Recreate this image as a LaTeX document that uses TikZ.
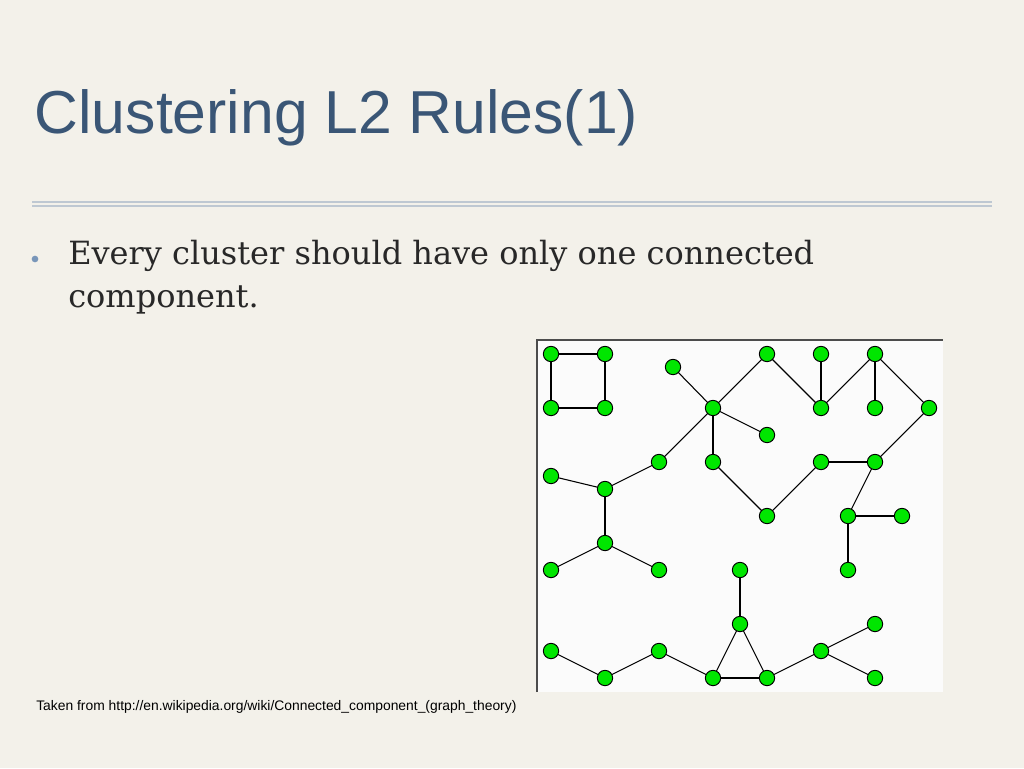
\documentclass[tikz,border=0pt]{standalone}
\usepackage{fontspec}
\setmainfont{DejaVu Serif}
\setsansfont{Liberation Sans}
\definecolor{bg}{RGB}{243,241,234}
\definecolor{titlec}{RGB}{58,86,118}
\definecolor{rulec}{RGB}{190,200,210}
\definecolor{bulc}{RGB}{120,150,185}
\definecolor{txtc}{RGB}{40,40,40}
\definecolor{nodec}{RGB}{0,230,0}
\begin{document}
\begin{tikzpicture}[x=0.75pt,y=-0.75pt,
  v/.style={circle,draw=black,fill=nodec,line width=0.7pt,minimum size=11.5pt,inner sep=0pt},
  e/.style={line width=0.8pt}]
\fill[bg] (0,0) rectangle (1024,768);
\useasboundingbox (0,0) rectangle (1024,768);
\node[anchor=west,text=titlec,font=\sffamily\fontsize{45.5}{50}\selectfont] (title) at (30,118) {Clustering L2 Rules(1)};
\draw[rulec,line width=1pt] (32,202) -- (992,202) (32,206) -- (992,206);
\node[circle,fill=bulc,inner sep=0pt,minimum size=5pt] (bul) at (35,259) {};
\node[anchor=north west,align=left,text=txtc,font=\fontsize{24}{32}\selectfont,inner sep=0pt] (txt) at (68,240) {Every cluster should have only one connected\\component.};
\node[anchor=west,font=\sffamily\fontsize{10.4}{12}\selectfont,inner sep=0pt] (foot) at (36,707) {Taken from http://en.wikipedia.org/wiki/Connected\_component\_(graph\_theory)};
\fill[white!97!gray] (537,340) rectangle (943,692);
\draw[black!70,line width=0.8pt] (537,692) -- (537,340) -- (943,340);
\foreach \n/\x/\y in {a1/551/354,a2/605/354,a3/551/408,a4/605/408,b/673/367,h/713/408,t1/767/354,m1/821/408,n1/821/354,t2/875/354,t3/875/408,r/929/408,k/767/435,d/713/462,l/659/462,c/605/489,c0/551/476,ee/605/543,e1/551/570,e2/659/570,vv/767/516,w/821/462,xx/875/462,yy/848/516,y1/902/516,y2/848/570,p/740/570,q/740/624,q1/713/678,q2/767/678,s1/551/651,s2/605/678,s3/659/651,u/821/651,u1/875/624,u2/875/678}
  \coordinate (\n) at (\x,\y);
\foreach \a/\b in {a1/a2,a2/a4,a4/a3,a3/a1,b/h,h/t1,t1/m1,n1/m1,m1/t2,t2/t3,t2/r,h/k,h/d,h/l,l/c,c0/c,c/ee,ee/e1,ee/e2,d/vv,vv/w,w/xx,xx/r,xx/yy,yy/y1,yy/y2,p/q,q/q1,q/q2,q1/q2,s1/s2,s2/s3,s3/q1,q2/u,u/u1,u/u2}
  \draw[e] (\a) -- (\b);
\foreach \n in {a1,a2,a3,a4,b,h,t1,m1,n1,t2,t3,r,k,d,l,c,c0,ee,e1,e2,vv,w,xx,yy,y1,y2,p,q,q1,q2,s1,s2,s3,u,u1,u2}
  \node[v] at (\n) {};
\end{tikzpicture}
\end{document}
